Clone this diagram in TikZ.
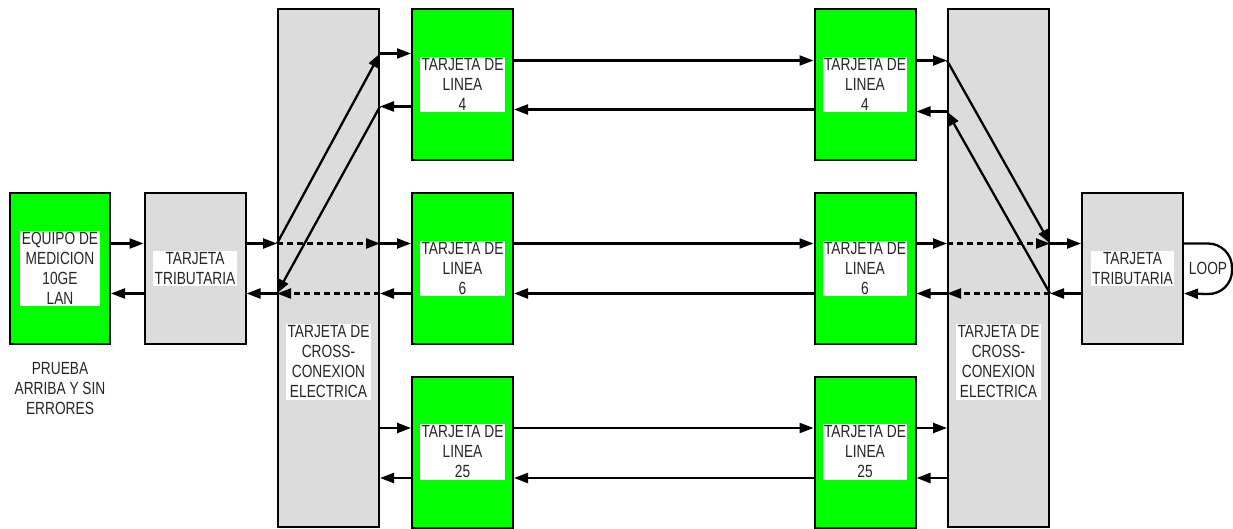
\documentclass[tikz,border=0pt]{standalone}
\usepackage{fontspec}
\setmainfont{Liberation Sans}
\newfontfamily\tallfont[FakeStretch=0.78]{Liberation Sans}
\usetikzlibrary{arrows.meta,positioning}
\definecolor{cardgreen}{HTML}{00FF00}
\definecolor{panelgray}{HTML}{DCDCDC}
\tikzset{
  greenbox/.style={draw,line width=2pt,fill=cardgreen,minimum width=101pt,minimum height=151pt,inner sep=0pt},
  graybox/.style={draw,line width=2pt,fill=panelgray,minimum width=101pt,inner sep=0pt},
  tag/.style={fill=white,inner sep=1.5pt,align=center,text=black!85,font=\tallfont\fontsize{17.6}{20}\selectfont},
  link/.style={line width=2.3pt,-{Triangle[length=14pt,width=10pt]}},
  dlink/.style={link,dash pattern=on 6pt off 4pt},
}
\begin{document}
\begin{tikzpicture}[x=1pt,y=-1pt]
      \useasboundingbox (0,0) rectangle (1233,529);
      % cajas
      \node[greenbox,minimum width=100pt] (eq) at (60,268.5) {};
      \node[graybox,minimum height=151pt] (trL) at (195,268.5) {};
      \node[graybox,minimum height=518pt] (ccL) at (328.5,268) {};
      \node[greenbox] (l4L) at (462.5,84.5) {}; \node[greenbox] (l6L) at (462.5,268.5) {}; \node[greenbox] (l25L) at (462.5,452) {};
      \node[greenbox] (l4R) at (865,84.5) {}; \node[greenbox] (l6R) at (865,268.5) {}; \node[greenbox] (l25R) at (865,452) {};
      \node[graybox,minimum height=518pt] (ccR) at (998.5,268) {};
      \node[graybox,minimum height=151pt] (trR) at (1132.5,268.5) {};
      % textos
      \node[tag] (eqtxt) at (eq) {EQUIPO DE\\MEDICION\\10GE\\LAN};
      \node[tag] (trLtxt) at (trL) {TARJETA\\TRIBUTARIA};
      \node[tag] (trRtxt) at (trR) {TARJETA\\TRIBUTARIA};
      \node[tag] (ccLtxt) at ([yshift=-94pt]ccL.center) {TARJETA DE\\CROSS-\\CONEXION\\ELECTRICA};
      \node[tag] (ccRtxt) at ([yshift=-94pt]ccR.center) {TARJETA DE\\CROSS-\\CONEXION\\ELECTRICA};
      \foreach \n/\c in {4/l4L,6/l6L,25/l25L,4/l4R,6/l6R,25/l25R}
        \node[tag] (\c txt) at (\c) {TARJETA DE\\LINEA\\\n};
      \node[tag,fill=none] (nota) at (60,389) {PRUEBA\\ARRIBA Y SIN\\ERRORES};
      \node[tag,fill=none] (loop) at (1208,268) {LOOP};
      % puntos en las tarjetas de cross-conexion
      \coordinate (xin) at ([yshift=25pt]trL.east -| ccL.west);
      \coordinate (xout) at ([yshift=-25pt]trL.east -| ccL.west);
      \coordinate (p4in) at ([yshift=31pt]l4L.west -| ccL.east);
      \coordinate (p4out) at ([yshift=-22pt]l4L.west -| ccL.east);
      \coordinate (p6in) at ([yshift=25pt]l6L.west -| ccL.east);
      \coordinate (p6out) at ([yshift=-25pt]l6L.west -| ccL.east);
      \coordinate (q4in) at ([yshift=24pt]l4R.east -| ccR.west);
      \coordinate (q4out) at ([yshift=-27pt]l4R.east -| ccR.west);
      \coordinate (q6in) at ([yshift=25pt]l6R.east -| ccR.west);
      \coordinate (q6out) at ([yshift=-25pt]l6R.east -| ccR.west);
      \coordinate (yin) at ([yshift=25pt]trR.west -| ccR.east);
      \coordinate (yout) at ([yshift=-25pt]trR.west -| ccR.east);
      % lado izquierdo
      \draw[link] ([yshift=25pt]eq.east) -- ([yshift=25pt]trL.west);
      \draw[link] ([yshift=-25pt]trL.west) -- ([yshift=-25pt]eq.east);
      \draw[link] ([yshift=25pt]trL.east) -- (xin);
      \draw[link] (xout) -- ([yshift=-25pt]trL.east);
      \draw[link] (xin) -- (p4in);
      \draw[link] (p4out) -- (xout);
      \draw[dlink] (xin) -- (p6in);
      \draw[dlink] (p6out) -- (xout);
      \draw[link] (p4in) -- ([yshift=31pt]l4L.west);
      \draw[link] ([yshift=-22pt]l4L.west) -- (p4out);
      \draw[link] (p6in) -- ([yshift=25pt]l6L.west);
      \draw[link] ([yshift=-25pt]l6L.west) -- (p6out);
      \draw[link] ([yshift=24pt]l25L.west -| ccL.east) -- ([yshift=24pt]l25L.west);
      \draw[link] ([yshift=-26pt]l25L.west) -- ([yshift=-26pt]l25L.west -| ccL.east);
      % enlaces entre tarjetas de linea
      \draw[link] ([yshift=24pt]l4L.east) -- ([yshift=24pt]l4R.west);
      \draw[link] ([yshift=-25pt]l4R.west) -- ([yshift=-25pt]l4L.east);
      \draw[link] ([yshift=25pt]l6L.east) -- ([yshift=25pt]l6R.west);
      \draw[link] ([yshift=-25pt]l6R.west) -- ([yshift=-25pt]l6L.east);
      \draw[link] ([yshift=24pt]l25L.east) -- ([yshift=24pt]l25R.west);
      \draw[link] ([yshift=-26pt]l25R.west) -- ([yshift=-26pt]l25L.east);
      % lado derecho
      \draw[link] ([yshift=24pt]l4R.east) -- (q4in);
      \draw[link] (q4out) -- ([yshift=-27pt]l4R.east);
      \draw[link] (q4in) -- (yin);
      \draw[link] (yout) -- (q4out);
      \draw[link] ([yshift=25pt]l6R.east) -- (q6in);
      \draw[link] (q6out) -- ([yshift=-25pt]l6R.east);
      \draw[dlink] (q6in) -- (yin);
      \draw[dlink] (yout) -- (q6out);
      \draw[link] (yin) -- ([yshift=25pt]trR.west);
      \draw[link] ([yshift=-25pt]trR.west) -- (yout);
      \draw[link] ([yshift=24pt]l25R.east) -- ([yshift=24pt]l25R.east -| ccR.west);
      \draw[link] ([yshift=-26pt]l25R.east -| ccR.west) -- ([yshift=-26pt]l25R.east);
      \draw[link,rounded corners=24pt] ([yshift=25pt]trR.east) -- ++(48pt,0) -- ++(0,-51pt) -- ([yshift=-25pt]trR.east);
    \end{tikzpicture}
\end{document}
